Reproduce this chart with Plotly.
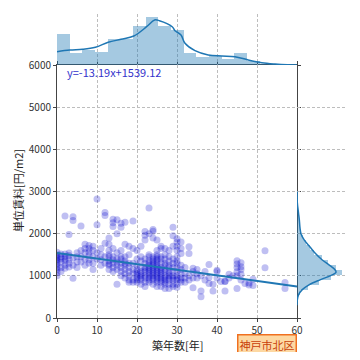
import plotly.graph_objects as go

# ---------------- data ----------------
scatter_ages = [0, 1, 2, 3, 4, 5, 6, 7, 8, 9, 10, 11, 12, 13, 14, 15, 16, 17, 18, 19,
                20, 21, 22, 23, 24, 25, 26, 27, 28, 29, 30, 31, 32, 33, 34, 35, 36, 37,
                38, 39, 40, 41, 42, 43, 44, 45, 46, 47, 48, 49, 52, 57]
scatter_rents = [
    [1000, 1080, 1150, 1200, 1250, 1300, 1350, 1380, 1420, 1460, 1500, 1560],
    [1200, 1320, 1400, 1450, 1520, 1100],
    [2420, 1180, 1250, 1400, 1460, 1520, 1350],
    [1980, 1210, 1380, 1480, 1540, 1300],
    [2400, 2310, 940, 1250, 1420],
    [1200, 1330, 1450, 1550],
    [2180, 1330, 1450, 1600],
    [1250, 1400, 1550, 1650, 1750],
    [1380, 1480, 1560, 1650, 1720, 1300],
    [1150, 1300, 1450, 1600, 1700],
    [2820, 2210, 1400, 1550],
    [1250, 1380, 1500, 1650],
    [2500, 2430, 1770, 1300, 1450],
    [1900, 1750, 1600, 1450, 1350, 1250, 1150, 1280, 1500],
    [2340, 2260, 2170, 1650, 1450, 1300, 1200, 1100, 1380],
    [2330, 2000, 1550, 1400, 1250, 1150, 800, 1320],
    [2250, 2150, 1600, 1400, 1300, 1200, 1100, 1000, 1450],
    [2270, 1750, 1450, 1350, 1250, 1150, 1050, 950, 1300],
    [1700, 1500, 1300, 1200, 1100, 1000, 900, 850],
    [2300, 1650, 1300, 1150, 1050, 900, 850],
    [1600, 1400, 1250, 1150, 1050, 1000, 950, 900, 850, 1100],
    [1700, 1450, 1350, 1200, 1100, 1000, 950, 900, 800, 1050],
    [2050, 1960, 1850, 1400, 1300, 1200, 1150, 1100, 1000, 950, 850, 750],
    [2610, 2000, 1500, 1450, 1350, 1300, 1250, 1200, 1150, 1100, 1050, 1000, 950, 900, 850],
    [2100, 2060, 1900, 1450, 1400, 1350, 1300, 1250, 1200, 1150, 1100, 1050, 1000, 950, 900, 800],
    [1850, 1600, 1500, 1450, 1400, 1350, 1300, 1250, 1200, 1150, 1100, 1050, 1000, 950, 900, 850, 750],
    [1700, 1650, 1450, 1400, 1300, 1200, 1150, 1100, 1050, 1000, 950, 900, 850, 750],
    [1650, 1500, 1400, 1300, 1250, 1150, 1100, 1000, 950, 900, 850, 800, 700],
    [1600, 1450, 1350, 1250, 1200, 1100, 1050, 1000, 950, 900, 800, 700],
    [2150, 1950, 1700, 1400, 1300, 1200, 1100, 1000, 950, 900, 800, 750],
    [1880, 1800, 1700, 1600, 1450, 1350, 1300, 1200, 1100, 1000, 950, 900, 800, 730],
    [1800, 1650, 1530, 1250, 1150, 1050, 950, 900, 850],
    [1200, 1050, 950, 850],
    [1690, 1530, 1000, 900],
    [1180, 1100, 950, 720],
    [1150, 1050, 950],
    [640, 505, 1000],
    [1100, 900],
    [1270, 960, 820],
    [800, 640],
    [1130, 1100, 950],
    [865],
    [865, 870, 640],
    [1040, 950],
    [1000],
    [1360, 1280, 1095, 1000, 700, 1200],
    [1310, 1215, 1040, 900, 1150],
    [820],
    [830, 780],
    [920, 770],
    [1595, 1190],
    [840, 700],
]

reg_slope = -13.19
reg_intercept = 1539.12
reg_x_ends = [0, 60]

# top marginal histogram of age (bin edges, bar heights)
age_bin_edges = [0, 3.17, 6.33, 9.5, 12.67, 15.83, 19, 22.17, 25.33, 28.5, 31.67,
                 34.83, 38, 41.17, 44.33, 47.5, 50.67, 53.83, 57]
age_bin_heights = [30.7, 12.3, 15.5, 13.3, 26, 26, 39, 48.3, 39.3, 35, 11.7, 8.3,
                   9, 6, 12.3, 4.3, 1.3, 1.3]
age_kde_x = [0, 3.2, 6.4, 9.6, 12.8, 16, 19.2, 22.4, 24.4, 25.6, 28.8, 29.5, 31, 32,
             34.5, 37.8, 41.2, 44.5, 47.8, 51.2, 54.5, 57.6, 60]
age_kde_y = [13.3, 15, 15.7, 17.7, 22.7, 25.7, 29, 38.3, 45, 44.3, 38.3, 34.3, 30,
             21.7, 14.3, 10, 9, 8.3, 5, 2.3, 1, 0.3, 0.1]

# right marginal histogram of rent
rent_bin_edges = [430, 548, 667, 786, 905, 1024, 1143, 1262, 1381, 1500, 1619, 1738,
                  1857, 1976, 2095, 2214, 2333, 2452, 2571, 2690, 2809]
rent_bin_widths = [1, 3, 11, 22, 34, 45, 39, 31, 25, 17, 13, 9, 6, 4, 3, 3, 2, 1,
                   0.5, 0.5]
rent_kde_y = [300, 429, 548, 667, 786, 905, 1000, 1087, 1143, 1262, 1381, 1540,
              1683, 1857, 2000, 2135, 2333, 2490, 2740, 3000]
rent_kde_x = [0.1, 0.3, 1.5, 5, 12, 23, 33, 39, 38, 32, 25, 18, 13, 7, 4, 3, 2.3,
              1.5, 0.3, 0.1]

x_ticks = [0, 10, 20, 30, 40, 50, 60]
y_ticks = [0, 1000, 2000, 3000, 4000, 5000, 6000]

# ---------------- figure ----------------
xs, ys = [], []
for a, rs in zip(scatter_ages, scatter_rents):
    for r in rs:
        xs.append(a)
        ys.append(r)

FONT = "Noto Sans CJK JP, DejaVu Sans, sans-serif"
BLUE = "#1f77b4"
GRID = "#bdbdbd"
AX = "#444444"
DASH = "3px,2px"

fig = go.Figure()

fig.add_trace(go.Scatter(
    x=xs, y=ys, mode="markers", xaxis="x", yaxis="y",
    marker=dict(size=7, color="rgba(0,0,205,0.25)", line=dict(width=0)),
    hoverinfo="skip", showlegend=False))

fig.add_trace(go.Scatter(
    x=reg_x_ends, y=[reg_slope * v + reg_intercept for v in reg_x_ends],
    mode="lines", xaxis="x", yaxis="y", line=dict(color=BLUE, width=2),
    showlegend=False))

# top marginal
centers = [(a + b) / 2 for a, b in zip(age_bin_edges[:-1], age_bin_edges[1:])]
widths = [b - a for a, b in zip(age_bin_edges[:-1], age_bin_edges[1:])]
fig.add_trace(go.Bar(
    x=centers, y=age_bin_heights, width=widths, xaxis="x2", yaxis="y2",
    marker=dict(color="rgba(31,119,180,0.4)", line=dict(width=0)),
    showlegend=False))
fig.add_trace(go.Scatter(
    x=age_kde_x, y=age_kde_y, mode="lines", line=dict(color=BLUE, width=1.5, shape="spline"),
    xaxis="x2", yaxis="y2", showlegend=False))

# right marginal
rc = [(a + b) / 2 for a, b in zip(rent_bin_edges[:-1], rent_bin_edges[1:])]
rw = [b - a for a, b in zip(rent_bin_edges[:-1], rent_bin_edges[1:])]
fig.add_trace(go.Bar(
    y=rc, x=rent_bin_widths, width=rw, orientation="h", xaxis="x3", yaxis="y3",
    marker=dict(color="rgba(31,119,180,0.4)", line=dict(width=0)),
    showlegend=False))
fig.add_trace(go.Scatter(
    x=rent_kde_x, y=rent_kde_y, mode="lines", line=dict(color=BLUE, width=1.5, shape="spline"),
    xaxis="x3", yaxis="y3", showlegend=False))

MAIN_X = 240 / 288
MAIN_Y = 253 / 304

# the page body adds an 8px margin, so the figure is 344 px and margins are reduced by 8
fig.update_layout(
    width=344, height=344,
    margin=dict(l=49, r=7, t=6, b=34, autoexpand=False),
    paper_bgcolor="white", plot_bgcolor="white",
    font=dict(family=FONT, size=10, color="#333333"),
    bargap=0,
    xaxis=dict(domain=[0, MAIN_X], range=[0, 60], tickvals=x_ticks,
               showgrid=True, gridcolor=GRID, griddash=DASH, gridwidth=0.8,
               zeroline=False, showline=True, linecolor=AX, linewidth=1, mirror="ticks",
               ticks="outside", ticklen=3, tickcolor=AX, anchor="y"),
    yaxis=dict(domain=[0, MAIN_Y], range=[0, 6000], tickvals=y_ticks,
               showgrid=True, gridcolor=GRID, griddash=DASH, gridwidth=0.8,
               zeroline=False, showline=True, linecolor=AX, linewidth=1, mirror="ticks",
               ticks="outside", ticklen=3, tickcolor=AX, anchor="x"),
    xaxis2=dict(domain=[0, MAIN_X], range=[0, 60], matches="x", tickvals=x_ticks,
                showgrid=True, gridcolor=GRID, griddash=DASH, gridwidth=0.8,
                zeroline=False, showticklabels=False, showline=False, anchor="y2"),
    yaxis2=dict(domain=[MAIN_Y, 1], range=[0, 51], visible=False, anchor="x2"),
    xaxis3=dict(domain=[MAIN_X, 1], range=[0, 48], visible=False, anchor="y3"),
    yaxis3=dict(domain=[0, MAIN_Y], range=[0, 6000], matches="y", tickvals=y_ticks,
                showgrid=True, gridcolor=GRID, griddash=DASH, gridwidth=0.8,
                zeroline=False, showticklabels=False, showline=False, anchor="x3"),
    annotations=[
        dict(text="y=-13.19x+1539.12", xref="paper", yref="paper",
             x=8 / 288, y=246 / 304, xanchor="left", yanchor="middle",
             showarrow=False, font=dict(family=FONT, size=11, color="#3333cc")),
        dict(text="単位賃料[円/m2]", xref="paper", yref="paper",
             x=-39 / 288, y=(318 - 191) / 304, textangle=-90,
             xanchor="center", yanchor="middle", showarrow=False,
             font=dict(family=FONT, size=11, color="#222222")),
        dict(text="築年数[年]", xref="paper", yref="paper",
             x=120 / 288, y=-27 / 304, xanchor="center", yanchor="middle",
             showarrow=False, font=dict(family=FONT, size=11, color="#222222")),
        dict(text="神戸市北区", xref="paper", yref="paper",
             x=210 / 288, y=-26 / 304, xanchor="center", yanchor="middle",
             showarrow=False, font=dict(family=FONT, size=11, color="#c8400a"),
             bgcolor="#fdd8a2", bordercolor="#f07020", borderwidth=1.5, borderpad=1),
    ],
)

fig.write_html("out.html")
